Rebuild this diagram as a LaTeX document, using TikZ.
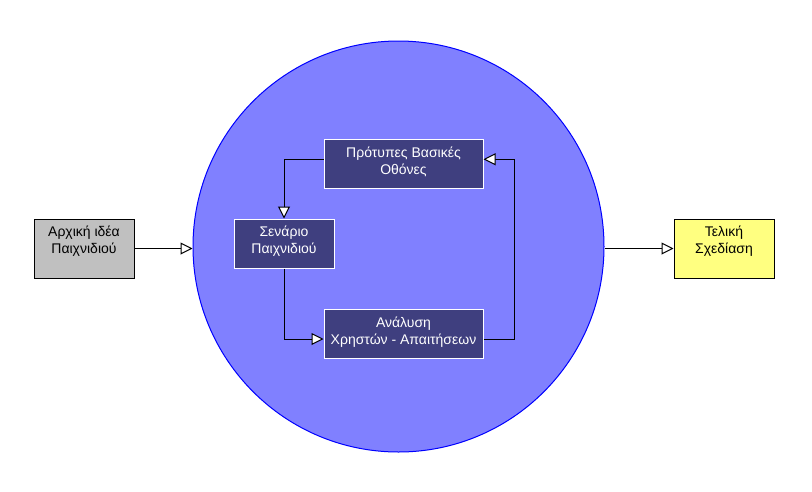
\documentclass[tikz,border=0pt]{standalone}
\usepackage{fontspec}
\setmainfont{Liberation Sans}
\usetikzlibrary{positioning, arrows.meta}

\definecolor{stagefill}{HTML}{3F3F7F}
\definecolor{cyclefill}{HTML}{8080FF}
\definecolor{inputfill}{HTML}{C0C0C0}
\definecolor{outputfill}{HTML}{FFFF80}

\begin{document}
\begin{tikzpicture}[
        x=1pt, y=-1pt,
        font=\fontsize{14}{17}\selectfont,
        endbox/.style={rectangle, draw=black, line width=1pt, minimum width=100pt, minimum height=59pt, align=center, text height=27pt, text depth=18pt},
        stage/.style={rectangle, draw=white, line width=1pt, fill=stagefill, text=white, minimum height=49pt, align=center, text height=27pt, text depth=7pt},
        flow/.style={draw=black, line width=1pt, -{Triangle[open, fill=white, length=12pt, width=12pt]}}
    ]
        \useasboundingbox (0,0) rectangle (812,491);
        % the design cycle
        \node[circle, draw=blue, line width=1pt, fill=cyclefill, minimum size=411pt] (cycle) at (398.5,246.5) {};
        \node[stage, minimum width=100pt] (scen) at (284,243.5) {Σενάριο\\Παιχνιδιού};
        \node[stage, minimum width=159pt] (proto) at (403.5,164) {Πρότυπες Βασικές\\Οθόνες};
        \node[stage, minimum width=159pt] (anal) at (403.5,334) {Ανάλυση\\Χρηστών - Απαιτήσεων};
        % input and output
        \node[endbox, fill=inputfill] (idea) at (84,248.5) {Αρχική ιδέα\\Παιχνιδιού};
        \node[endbox, fill=outputfill] (final) at (724,248.5) {Τελική\\Σχεδίαση};
        \draw[flow] (idea.east) -- (idea.east -| cycle.west);
        \draw[flow] (final.west -| cycle.east) -- (final.west);
        \draw[flow] ([yshift=4.75pt]proto.west) -| (scen.north);
        \draw[flow] (scen.south) |- ([yshift=-5pt]anal.west);
        \draw[flow] ([yshift=-5pt]anal.east) -- ++(31,0) |- ([yshift=4.75pt]proto.east);
    \end{tikzpicture}
\end{document}
